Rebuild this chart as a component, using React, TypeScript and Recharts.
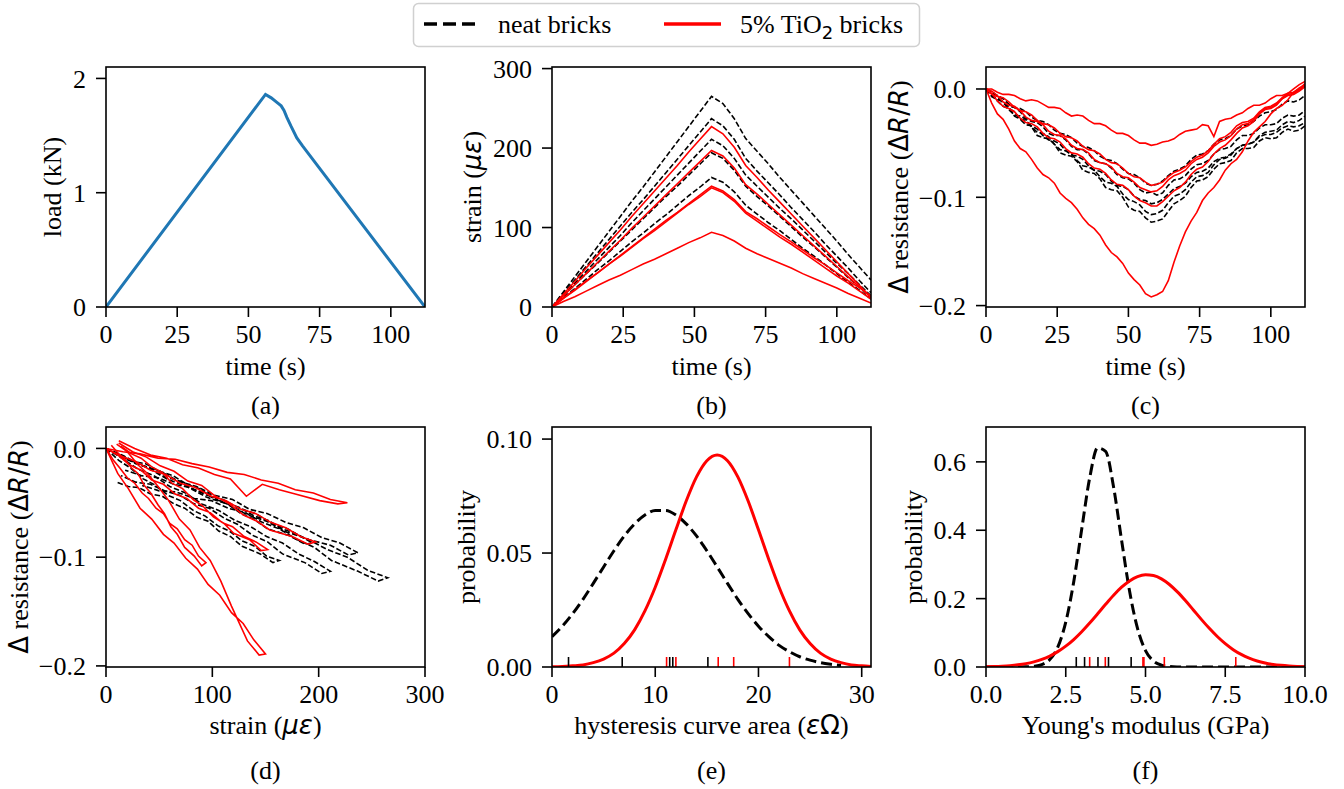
import React from 'react';
import { ComposedChart, Line, Scatter, XAxis, YAxis } from 'recharts';

const SERIF = '"Liberation Serif", "Times New Roman", serif';
const SANS = '"DejaVu Sans", sans-serif';
const RED = '#ff0000';
const BLUE = '#1f77b4';
const FS = 26;

// (a) load history
const loadTime = [0, 56, 58, 60, 61.5, 62.5, 63.5, 65, 67, 69, 112];
const loadKN = [0, 1.86, 1.83, 1.79, 1.76, 1.72, 1.66, 1.58, 1.48, 1.41, 0];

// (b), (d) strain records, sampled every 4 s
const TIME = [0, 4, 8, 12, 16, 20, 24, 28, 32, 36, 40, 44, 48, 52, 56, 60, 64, 68, 72, 76, 80, 84, 88, 92, 96, 100, 104, 108, 112];

const neatStrain = [
  [0, 19, 38, 57, 76, 95, 114, 133, 151, 170, 189, 208, 227, 246, 265, 256, 237, 212, 196, 180, 163, 147, 131, 115, 99, 83, 66, 50, 34],
  [0, 17, 34, 51, 68, 85, 102, 119, 135, 152, 169, 186, 203, 220, 237, 228, 211, 187, 171, 156, 141, 125, 110, 95, 79, 64, 49, 33, 18],
  [0, 15, 30, 45, 60, 75, 90, 106, 121, 136, 151, 166, 181, 196, 211, 203, 187, 166, 152, 138, 124, 111, 97, 83, 69, 55, 42, 28, 14],
  [0, 14, 28, 42, 55, 69, 83, 97, 111, 125, 139, 152, 166, 180, 194, 187, 172, 152, 139, 127, 114, 101, 88, 76, 63, 50, 37, 25, 12],
  [0, 12, 23, 35, 47, 58, 70, 82, 93, 105, 116, 128, 140, 151, 163, 157, 145, 128, 117, 106, 96, 85, 74, 64, 53, 42, 31, 21, 10],
];
const tio2Strain = [
  [0, 16, 32, 49, 65, 81, 97, 114, 130, 146, 162, 178, 195, 211, 227, 218, 201, 178, 163, 147, 132, 117, 102, 87, 72, 57, 42, 27, 12],
  [0, 14, 28, 42, 56, 70, 84, 99, 113, 127, 141, 155, 169, 183, 197, 190, 175, 154, 142, 129, 116, 103, 90, 77, 64, 51, 38, 25, 12],
  [0, 11, 22, 33, 43, 54, 65, 76, 87, 98, 109, 119, 130, 141, 152, 146, 135, 120, 111, 101, 91, 82, 72, 62, 53, 43, 33, 24, 14],
  [0, 11, 21, 32, 43, 54, 64, 75, 86, 96, 107, 118, 129, 139, 150, 144, 133, 118, 108, 98, 88, 79, 69, 59, 49, 39, 30, 20, 10],
  [0, 7, 13, 20, 27, 34, 40, 47, 54, 60, 67, 74, 81, 87, 94, 90, 83, 74, 67, 61, 55, 49, 42, 36, 30, 24, 17, 11, 5],
];

// (c), (d) resistance change records, sampled every 2 s
const TIME2 = [0, 2, 4, 6, 8, 10, 12, 14, 16, 18, 20, 22, 24, 26, 28, 30, 32, 34, 36, 38, 40, 42, 44, 46, 48, 50, 52, 54, 56, 58, 60, 62, 64, 66, 68, 70, 72, 74, 76, 78, 80, 82, 84, 86, 88, 90, 92, 94, 96, 98, 100, 102, 104, 106, 108, 110, 112];

const neatDR = [
  [0, -0.007, -0.010, -0.011, -0.017, -0.025, -0.028, -0.029, -0.035, -0.043, -0.045, -0.046, -0.051, -0.059, -0.061, -0.062, -0.067, -0.075, -0.077, -0.078, -0.083, -0.091, -0.093, -0.094, -0.100, -0.109, -0.112, -0.113, -0.119, -0.123, -0.122, -0.120, -0.113, -0.106, -0.103, -0.099, -0.091, -0.085, -0.084, -0.081, -0.074, -0.069, -0.068, -0.066, -0.059, -0.055, -0.055, -0.054, -0.048, -0.045, -0.046, -0.045, -0.040, -0.037, -0.039, -0.038, -0.034],
  [0, -0.002, -0.007, -0.013, -0.016, -0.017, -0.021, -0.027, -0.030, -0.031, -0.035, -0.041, -0.043, -0.043, -0.047, -0.053, -0.056, -0.056, -0.060, -0.066, -0.068, -0.069, -0.073, -0.079, -0.082, -0.083, -0.087, -0.093, -0.096, -0.095, -0.098, -0.096, -0.089, -0.084, -0.083, -0.080, -0.074, -0.070, -0.069, -0.066, -0.060, -0.056, -0.055, -0.053, -0.047, -0.043, -0.043, -0.041, -0.036, -0.033, -0.033, -0.032, -0.027, -0.024, -0.025, -0.024, -0.020],
  [0, -0.006, -0.009, -0.012, -0.019, -0.024, -0.025, -0.028, -0.035, -0.040, -0.041, -0.044, -0.051, -0.056, -0.057, -0.060, -0.066, -0.071, -0.072, -0.075, -0.081, -0.086, -0.087, -0.090, -0.097, -0.102, -0.104, -0.107, -0.113, -0.116, -0.115, -0.112, -0.105, -0.099, -0.097, -0.093, -0.086, -0.081, -0.080, -0.077, -0.070, -0.065, -0.064, -0.061, -0.055, -0.052, -0.051, -0.049, -0.043, -0.040, -0.039, -0.038, -0.033, -0.030, -0.031, -0.029, -0.025],
  [0, -0.004, -0.006, -0.009, -0.014, -0.017, -0.018, -0.021, -0.026, -0.029, -0.030, -0.033, -0.038, -0.041, -0.042, -0.045, -0.050, -0.053, -0.054, -0.057, -0.062, -0.065, -0.066, -0.069, -0.074, -0.078, -0.079, -0.082, -0.087, -0.089, -0.088, -0.085, -0.080, -0.076, -0.074, -0.071, -0.065, -0.061, -0.060, -0.057, -0.051, -0.047, -0.046, -0.043, -0.037, -0.034, -0.033, -0.030, -0.025, -0.022, -0.021, -0.019, -0.014, -0.011, -0.012, -0.010, -0.006],
  [0, -0.004, -0.011, -0.016, -0.018, -0.021, -0.028, -0.033, -0.034, -0.037, -0.043, -0.047, -0.048, -0.051, -0.057, -0.061, -0.062, -0.065, -0.071, -0.075, -0.076, -0.079, -0.085, -0.089, -0.090, -0.093, -0.099, -0.102, -0.103, -0.106, -0.105, -0.102, -0.097, -0.092, -0.090, -0.087, -0.081, -0.077, -0.076, -0.073, -0.067, -0.064, -0.063, -0.060, -0.055, -0.052, -0.051, -0.049, -0.044, -0.042, -0.042, -0.040, -0.036, -0.034, -0.035, -0.034, -0.031],
];
const tio2DR = [
  [0, 0.000, -0.003, -0.005, -0.005, -0.006, -0.009, -0.011, -0.010, -0.011, -0.014, -0.017, -0.017, -0.018, -0.022, -0.025, -0.024, -0.025, -0.029, -0.032, -0.032, -0.034, -0.038, -0.041, -0.041, -0.043, -0.047, -0.050, -0.050, -0.052, -0.051, -0.049, -0.048, -0.046, -0.042, -0.039, -0.038, -0.037, -0.033, -0.034, -0.044, -0.030, -0.028, -0.027, -0.024, -0.022, -0.018, -0.015, -0.015, -0.013, -0.009, -0.006, -0.006, -0.004, 0.000, 0.004, 0.007],
  [0, -0.005, -0.007, -0.008, -0.012, -0.017, -0.020, -0.021, -0.024, -0.029, -0.032, -0.033, -0.036, -0.041, -0.044, -0.045, -0.048, -0.053, -0.056, -0.057, -0.060, -0.065, -0.068, -0.069, -0.073, -0.078, -0.081, -0.082, -0.086, -0.089, -0.088, -0.086, -0.081, -0.077, -0.075, -0.072, -0.067, -0.063, -0.061, -0.057, -0.051, -0.046, -0.044, -0.040, -0.034, -0.031, -0.030, -0.027, -0.021, -0.017, -0.016, -0.013, -0.008, -0.004, -0.003, 0.000, 0.005],
  [0, -0.002, -0.006, -0.012, -0.015, -0.016, -0.020, -0.026, -0.029, -0.030, -0.033, -0.039, -0.042, -0.043, -0.046, -0.052, -0.055, -0.056, -0.059, -0.065, -0.068, -0.069, -0.072, -0.078, -0.081, -0.082, -0.086, -0.091, -0.093, -0.095, -0.094, -0.090, -0.084, -0.080, -0.078, -0.075, -0.069, -0.065, -0.063, -0.059, -0.053, -0.049, -0.047, -0.043, -0.037, -0.033, -0.032, -0.028, -0.022, -0.018, -0.017, -0.014, -0.009, -0.006, -0.005, -0.002, 0.002],
  [0, -0.013, -0.023, -0.028, -0.037, -0.048, -0.055, -0.058, -0.065, -0.073, -0.079, -0.082, -0.087, -0.096, -0.101, -0.105, -0.111, -0.119, -0.125, -0.129, -0.135, -0.144, -0.151, -0.155, -0.161, -0.170, -0.176, -0.181, -0.189, -0.192, -0.190, -0.187, -0.177, -0.160, -0.145, -0.132, -0.122, -0.114, -0.103, -0.096, -0.091, -0.084, -0.075, -0.069, -0.065, -0.058, -0.048, -0.040, -0.035, -0.030, -0.023, -0.018, -0.015, -0.010, -0.003, 0.001, 0.004],
  [0, -0.004, -0.011, -0.016, -0.018, -0.021, -0.027, -0.031, -0.032, -0.035, -0.041, -0.045, -0.046, -0.049, -0.055, -0.059, -0.060, -0.063, -0.069, -0.073, -0.074, -0.078, -0.084, -0.088, -0.089, -0.093, -0.099, -0.103, -0.105, -0.108, -0.108, -0.104, -0.099, -0.094, -0.091, -0.086, -0.079, -0.074, -0.072, -0.067, -0.060, -0.055, -0.052, -0.047, -0.041, -0.036, -0.034, -0.030, -0.023, -0.019, -0.018, -0.015, -0.009, -0.005, -0.004, -0.001, 0.003],
];

// (e) hysteresis curve area
const areaX = [0, 1, 2, 3, 4, 5, 6, 7, 8, 9, 10, 11, 12, 13, 14, 15, 16, 17, 18, 19, 20, 21, 22, 23, 24, 25, 26, 27, 28, 29, 30, 31];
const areaNeat = [0.0133, 0.0179, 0.0234, 0.0297, 0.0367, 0.0439, 0.0510, 0.0575, 0.0628, 0.0667, 0.0687, 0.0687, 0.0667, 0.0628, 0.0575, 0.0510, 0.0439, 0.0367, 0.0297, 0.0234, 0.0179, 0.0133, 0.0095, 0.0067, 0.0045, 0.0030, 0.0019, 0.0012, 0.0007, null, null, null];
const areaTio2 = [0.0001, 0.0002, 0.0005, 0.0009, 0.0019, 0.0035, 0.0061, 0.0103, 0.0163, 0.0246, 0.0350, 0.0472, 0.0602, 0.0728, 0.0834, 0.0905, 0.0930, 0.0905, 0.0834, 0.0728, 0.0602, 0.0472, 0.0350, 0.0246, 0.0163, 0.0103, 0.0061, 0.0035, 0.0019, 0.0009, 0.0005, 0.0002];
const areaRugNeat = [1.6, 6.8, 11.4, 11.7, 15.1];
const areaRugTio2 = [11.1, 12.0, 16.1, 17.6, 23.0];

// (f) Young's modulus
const modX = [0, 0.25, 0.5, 0.75, 1, 1.25, 1.5, 1.75, 2, 2.25, 2.5, 2.75, 3, 3.25, 3.5, 3.75, 4, 4.25, 4.5, 4.75, 5, 5.25, 5.5, 5.75, 6, 6.25, 6.5, 6.75, 7, 7.25, 7.5, 7.75, 8, 8.25, 8.5, 8.75, 9, 9.25, 9.5, 9.75, 10];
const modNeat = [0, 0, 0, 0, 0.0001, 0.0004, 0.0019, 0.0069, 0.0218, 0.058, 0.131, 0.249, 0.403, 0.553, 0.641, 0.631, 0.526, 0.371, 0.222, 0.113, 0.048, 0.0176, 0.0054, 0.0014, 0.0003, 0, 0, 0, 0, 0, 0, 0, 0, 0, 0, 0, 0, 0, 0, 0, 0];
const modTio2 = [0.0008, 0.0014, 0.0024, 0.0039, 0.0063, 0.0099, 0.0151, 0.0223, 0.0321, 0.0449, 0.0610, 0.0804, 0.1032, 0.1286, 0.1558, 0.1834, 0.2099, 0.2333, 0.2519, 0.2645, 0.2698, 0.2675, 0.2578, 0.2414, 0.2196, 0.1942, 0.1669, 0.1393, 0.1131, 0.0892, 0.0683, 0.0508, 0.0368, 0.0259, 0.0177, 0.0118, 0.0076, 0.0048, 0.0029, 0.0017, 0.0010];
const modRugNeat = [2.83, 3.09, 3.51, 3.84, 4.55];
const modRugTio2 = [3.25, 3.74, 4.92, 4.95, 5.59, 7.83];

type Pt = { x: number; y: number | null };
type Series = { data: Pt[]; color: string; width: number; dash?: string; smooth?: boolean };

const pairs = (xs: number[], ys: (number | null)[]): Pt[] => xs.map((x, i) => ({ x, y: ys[i] }));
const rug = (xs: number[]): Pt[] => xs.map((x) => ({ x, y: 0 }));
const minus = (s: string) => s.replace('-', '\u2212');
// resistance samples taken at the same instants as the 4 s strain samples
const every4s = (dr: number[]) => dr.filter((_, i) => i % 2 === 0);

const THIN_DASH = '5.5 2.4';
const THICK_DASH = '11 5';

const COLS = [106, 552, 986];
const ROWS = [67, 427];
const PW = 319;
const PH = 240;

const tickStyle = { fontSize: FS, fill: '#000', fontFamily: SERIF };
const tickLine = { stroke: '#000', strokeWidth: 1.6 };

function Panel(props: {
  left: number; top: number;
  xDomain: [number, number]; yDomain: [number, number];
  xTicks: number[]; yTicks: number[];
  xFmt: (v: number) => string; yFmt: (v: number) => string;
  lines: Series[]; rugs?: { data: Pt[]; color: string }[];
}) {
  const L = 90, T = 20, R = 40, B = 50;
  const { left, top } = props;
  return (
    <div style={{ position: 'absolute', left: left - L, top: top - T }}>
      <ComposedChart width={PW + L + R} height={PH + T + B} margin={{ top: T, right: R, left: L - 80, bottom: B - 40 }}>
        <XAxis type="number" dataKey="x" domain={props.xDomain} ticks={props.xTicks} tickFormatter={props.xFmt}
          allowDataOverflow height={40} axisLine={false} tickLine={tickLine} tickSize={10} tickMargin={8} tick={tickStyle} interval={0} />
        <YAxis type="number" dataKey="y" domain={props.yDomain} ticks={props.yTicks} tickFormatter={props.yFmt}
          allowDataOverflow width={80} axisLine={false} tickLine={tickLine} tickSize={10} tickMargin={10} tick={tickStyle} interval={0} />
        {props.lines.map((s, i) => (
          <Line key={i} data={s.data} dataKey="y" type={s.smooth ? 'monotone' : 'linear'} stroke={s.color}
            strokeWidth={s.width} strokeDasharray={s.dash} dot={false} activeDot={false} isAnimationActive={false} />
        ))}
        {(props.rugs || []).map((r, i) => (
          <Scatter key={'r' + i} data={r.data} isAnimationActive={false}
            shape={(p: any) => <line x1={p.cx} x2={p.cx} y1={p.cy} y2={p.cy - 10} stroke={r.color} strokeWidth={1.6} />} />
        ))}
      </ComposedChart>
    </div>
  );
}

function YLabel({ x, y, children }: { x: number; y: number; children: React.ReactNode }) {
  return (
    <text transform={`translate(${x},${y}) rotate(-90)`} textAnchor="middle" dy={9} fontFamily={SERIF} fontSize={FS}>
      {children}
    </text>
  );
}

function XLabel({ x, y, children }: { x: number; y: number; children: React.ReactNode }) {
  return (
    <text x={x} y={y} textAnchor="middle" fontFamily={SERIF} fontSize={FS}>{children}</text>
  );
}

const math = (s: string, italic = true) => <tspan fontFamily={SANS} fontStyle={italic ? 'italic' : 'normal'}>{s}</tspan>;

export default function App() {
  const loadSeries: Series[] = [{ data: pairs(loadTime, loadKN), color: BLUE, width: 3 }];

  const strainSeries: Series[] = [
    ...neatStrain.map((s) => ({ data: pairs(TIME, s), color: '#000', width: 1.6, dash: THIN_DASH })),
    ...tio2Strain.map((s) => ({ data: pairs(TIME, s), color: RED, width: 1.6 })),
  ];
  const drSeries: Series[] = [
    ...neatDR.map((s) => ({ data: pairs(TIME2, s), color: '#000', width: 1.6, dash: THIN_DASH })),
    ...tio2DR.map((s) => ({ data: pairs(TIME2, s), color: RED, width: 1.6 })),
  ];
  const drStrainSeries: Series[] = [
    ...neatDR.map((s, k) => ({ data: pairs(neatStrain[k], every4s(s)), color: '#000', width: 1.6, dash: THIN_DASH })),
    ...tio2DR.map((s, k) => ({ data: pairs(tio2Strain[k], every4s(s)), color: RED, width: 1.6 })),
  ];
  const areaSeries: Series[] = [
    { data: pairs(areaX, areaNeat), color: '#000', width: 3, dash: THICK_DASH, smooth: true },
    { data: pairs(areaX, areaTio2), color: RED, width: 3, smooth: true },
  ];
  const modSeries: Series[] = [
    { data: pairs(modX, modNeat), color: '#000', width: 3, dash: THICK_DASH, smooth: true },
    { data: pairs(modX, modTio2), color: RED, width: 3, smooth: true },
  ];

  const timeTicks = [0, 25, 50, 75, 100];
  const fInt = (v: number) => String(v);
  const f1 = (v: number) => minus(v.toFixed(1));
  const f2 = (v: number) => v.toFixed(2);

  const rowMidY = ROWS.map((r) => r + PH / 2);
  const colMidX = COLS.map((c) => c + PW / 2);
  const xlabY = [375, 734];
  const capY = [414, 779];

  return (
    <div style={{ position: 'absolute', left: 0, top: 0, width: 1344, height: 789, background: '#fff', overflow: 'hidden' }}>
      <Panel left={COLS[0]} top={ROWS[0]} xDomain={[0, 112]} yDomain={[0, 2.1]} xTicks={timeTicks} yTicks={[0, 1, 2]}
        xFmt={fInt} yFmt={fInt} lines={loadSeries} />
      <Panel left={COLS[1]} top={ROWS[0]} xDomain={[0, 112]} yDomain={[0, 302]} xTicks={timeTicks} yTicks={[0, 100, 200, 300]}
        xFmt={fInt} yFmt={fInt} lines={strainSeries} />
      <Panel left={COLS[2]} top={ROWS[0]} xDomain={[0, 112]} yDomain={[-0.2013, 0.0203]} xTicks={timeTicks} yTicks={[-0.2, -0.1, 0]}
        xFmt={fInt} yFmt={f1} lines={drSeries} />
      <Panel left={COLS[0]} top={ROWS[1]} xDomain={[0, 300]} yDomain={[-0.201, 0.0197]} xTicks={[0, 100, 200, 300]} yTicks={[-0.2, -0.1, 0]}
        xFmt={fInt} yFmt={f1} lines={drStrainSeries} />
      <Panel left={COLS[1]} top={ROWS[1]} xDomain={[0, 30.9]} yDomain={[0, 0.1053]} xTicks={[0, 10, 20, 30]} yTicks={[0, 0.05, 0.1]}
        xFmt={fInt} yFmt={f2} lines={areaSeries}
        rugs={[{ data: rug(areaRugNeat), color: '#000' }, { data: rug(areaRugTio2), color: RED }]} />
      <Panel left={COLS[2]} top={ROWS[1]} xDomain={[0, 10]} yDomain={[0, 0.702]} xTicks={[0, 2.5, 5, 7.5, 10]} yTicks={[0, 0.2, 0.4, 0.6]}
        xFmt={f1} yFmt={f1} lines={modSeries}
        rugs={[{ data: rug(modRugNeat), color: '#000' }, { data: rug(modRugTio2), color: RED }]} />

      <svg width={1344} height={789} style={{ position: 'absolute', left: 0, top: 0, pointerEvents: 'none' }}>
        {ROWS.map((r) => COLS.map((c) => (
          <rect key={`${r}-${c}`} x={c} y={r} width={PW} height={PH} fill="none" stroke="#000" strokeWidth={1.6} />
        )))}

        {/* legend */}
        <rect x={413.5} y={3.5} width={506} height={43} rx={5} fill="#fff" stroke="#d0d0d0" strokeWidth={1.5} />
        <line x1={424} x2={477} y1={24} y2={24} stroke="#000" strokeWidth={3.5} strokeDasharray="13 6" />
        <text x={498} y={33} fontFamily={SERIF} fontSize={FS}>neat bricks</text>
        <line x1={664} x2={721} y1={24} y2={24} stroke={RED} strokeWidth={3.5} />
        <text x={740} y={33} fontFamily={SERIF} fontSize={FS}>
          5% TiO<tspan fontFamily={SANS} fontSize={18} dy={6}>2</tspan><tspan dy={-6}> bricks</tspan>
        </text>

        {/* axis labels */}
        <YLabel x={52} y={rowMidY[0]}>load (kN)</YLabel>
        <YLabel x={472} y={rowMidY[0]}>strain ({math('με')})</YLabel>
        <YLabel x={899} y={rowMidY[0]}>{math('Δ', false)} resistance ({math('Δ', false)}{math('R')}{math('/', false)}{math('R')})</YLabel>
        <YLabel x={19} y={rowMidY[1]}>{math('Δ', false)} resistance ({math('Δ', false)}{math('R')}{math('/', false)}{math('R')})</YLabel>
        <YLabel x={466} y={rowMidY[1]}>probability</YLabel>
        <YLabel x={913} y={rowMidY[1]}>probability</YLabel>

        <XLabel x={colMidX[0]} y={xlabY[0]}>time (s)</XLabel>
        <XLabel x={colMidX[1]} y={xlabY[0]}>time (s)</XLabel>
        <XLabel x={colMidX[2]} y={xlabY[0]}>time (s)</XLabel>
        <XLabel x={colMidX[0]} y={xlabY[1]}>strain ({math('με')})</XLabel>
        <XLabel x={colMidX[1]} y={xlabY[1]}>hysteresis curve area ({math('ε')}{math('Ω', false)})</XLabel>
        <XLabel x={colMidX[2]} y={xlabY[1]}>Young's modulus (GPa)</XLabel>

        {['(a)', '(b)', '(c)'].map((c, i) => <XLabel key={c} x={colMidX[i]} y={capY[0]}>{c}</XLabel>)}
        {['(d)', '(e)', '(f)'].map((c, i) => <XLabel key={c} x={colMidX[i]} y={capY[1]}>{c}</XLabel>)}
      </svg>
    </div>
  );
}
